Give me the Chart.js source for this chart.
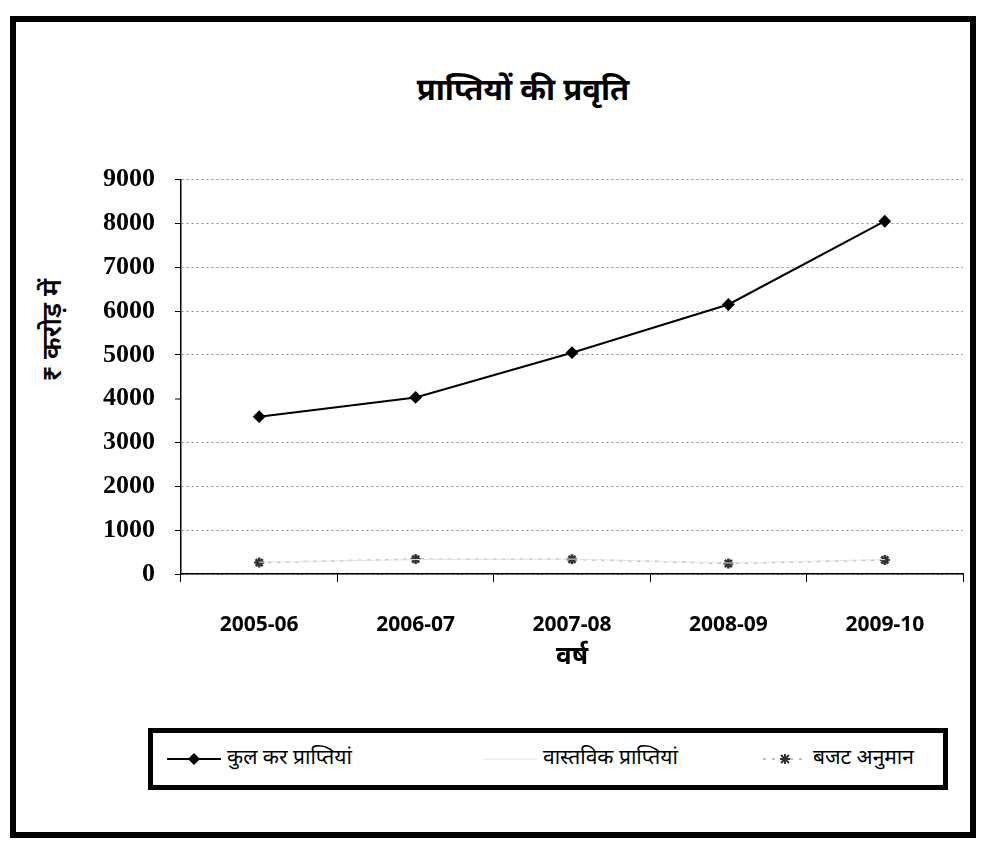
<!DOCTYPE html>
<html>
<head>
<meta charset="utf-8">
<script src="https://cdn.jsdelivr.net/npm/chart.js@4.4.1/dist/chart.umd.min.js"></script>
<style>
  html, body { margin: 0; padding: 0; background: #fff; }
  body {
    width: 987px; height: 845px; position: relative; overflow: hidden;
    font-family: "Noto Sans Devanagari", "Lohit Devanagari", "FreeSans", "Noto Sans", sans-serif;
    color: #000;
  }
  #frame {
    position: absolute; left: 10px; top: 16px; width: 966px; height: 822px;
    border: 6px solid #000; box-sizing: border-box;
  }
  #title {
    position: absolute; left: 0; width: 1046px; top: 72px; line-height: 42px;
    text-align: center; font-size: 31px; font-weight: bold;
  }
  #ytitle {
    position: absolute; left: 54px; top: 330px; white-space: nowrap;
    font-size: 27px; font-weight: 600;
    transform: translate(-50%, -50%) rotate(-90deg);
  }
  #chartBox { position: absolute; left: 20px; top: 144px; }
  #legend {
    position: absolute; left: 148px; top: 728px; width: 800px; height: 62px;
    border: 5px solid #000; box-sizing: border-box;
  }
  .item {
    position: absolute; top: 0; height: 52px; display: flex; align-items: center;
    font-size: 21px; white-space: nowrap;
  }
  .item svg { margin-right: 6px; }
</style>
</head>
<body>
<div id="frame"></div>
<div id="title">प्राप्तियों की प्रवृति</div>
<div id="ytitle">₹ करोड़ में</div>
<div id="chartBox"><canvas id="chart" width="955" height="531"></canvas></div>
<div id="legend"></div>

<script>
// data
const years = ['2005-06', '2006-07', '2007-08', '2008-09', '2009-10'];
const seriesNames = ['कुल कर प्राप्तियां', 'वास्तविक प्राप्तियां', 'बजट अनुमान'];
const totalTax = [3590, 4030, 5050, 6150, 8050];
const actualReceipts = [270, 330, 340, 250, 330];
const budgetEstimate = [260, 340, 335, 240, 320];
const yTicks = [0, 1000, 2000, 3000, 4000, 5000, 6000, 7000, 8000, 9000];

// the 4000 gridline is missing in the original
const gridWidths = yTicks.map(v => v === 4000 ? 0 : 1);

const ctx = document.getElementById('chart').getContext('2d');
const chart = new Chart(ctx, {
  type: 'line',
  data: {
    labels: years,
    datasets: [
      {
        label: seriesNames[0],
        data: totalTax,
        borderColor: '#000',
        borderWidth: 2,
        pointStyle: 'rectRot',
        pointRadius: 5,
        pointBackgroundColor: '#000',
        pointBorderColor: '#000',
        tension: 0
      },
      {
        label: seriesNames[1],
        data: actualReceipts,
        borderColor: '#e4e4e4',
        borderWidth: 1,
        pointRadius: 0,
        tension: 0
      },
      {
        label: seriesNames[2],
        data: budgetEstimate,
        borderColor: '#aaa',
        borderWidth: 1.5,
        borderDash: [3, 6],
        pointStyle: 'star',
        pointRadius: 5,
        pointBorderWidth: 2.5,
        pointBorderColor: '#333',
        pointBackgroundColor: '#333',
        tension: 0
      }
    ]
  },
  options: {
    responsive: false,
    animation: false,
    layout: { padding: { left: 0, right: 12, top: 25, bottom: 0 } },
    plugins: {
      legend: { display: false },
      title: { display: false },
      tooltip: { enabled: false }
    },
    scales: {
      x: {
        offset: true,
        afterFit: (scale) => { scale.height = 101; },
        grid: {
          offset: true,
          drawOnChartArea: false,
          tickLength: 8,
          tickColor: '#000',
          tickWidth: 1
        },
        border: { color: '#000', width: 1.5 },
        ticks: {
          color: '#000',
          padding: 30,
          maxRotation: 0,
          font: { family: '"Open Sans", sans-serif', size: 21, weight: 'bold' }
        },
        title: {
          display: true,
          text: 'वर्ष',
          color: '#000',
          padding: { top: 0, bottom: 0 },
          font: { family: '"Noto Sans Devanagari", "Lohit Devanagari", "FreeSans", sans-serif', size: 26, weight: 'bold' }
        }
      },
      y: {
        min: yTicks[0],
        max: yTicks[yTicks.length - 1],
        afterFit: (scale) => { scale.width = 161; },
        afterBuildTicks: (scale) => { scale.ticks = yTicks.map(v => ({ value: v })); },
        grid: {
          color: '#8a8a8a',
          lineWidth: gridWidths,
          tickLength: 6,
          tickColor: '#000',
          tickWidth: 1
        },
        border: { color: '#000', width: 1.5, dash: [2, 3] },
        ticks: {
          color: '#000',
          padding: 20,
          callback: (v) => String(v),
          font: { family: '"Liberation Serif", "DejaVu Serif", serif', size: 26, weight: 'bold' }
        }
      }
    }
  }
});

// legend built from the datasets
const legendPos = [14, 330, 610];
const legendBox = document.getElementById('legend');
chart.data.datasets.forEach((ds, i) => {
  const w = i === 2 ? 44 : 54;
  let svg = `<svg width="${w}" height="20"><line x1="0" y1="10" x2="${w}" y2="10" stroke="${ds.borderColor}" stroke-width="${ds.borderWidth}"${ds.borderDash ? ` stroke-dasharray="${ds.borderDash.join(',')}"` : ''}/>`;
  const c = w / 2;
  if (ds.pointStyle === 'rectRot') {
    svg += `<polygon points="${c},4 ${c + 6},10 ${c},16 ${c - 6},10" fill="${ds.pointBackgroundColor}"/>`;
  } else if (ds.pointStyle === 'star') {
    svg += `<g stroke="${ds.pointBorderColor}" stroke-width="2"><line x1="${c - 5}" y1="10" x2="${c + 5}" y2="10"/><line x1="${c}" y1="5" x2="${c}" y2="15"/><line x1="${c - 4}" y1="6" x2="${c + 4}" y2="14"/><line x1="${c - 4}" y1="14" x2="${c + 4}" y2="6"/></g>`;
  }
  svg += '</svg>';
  const item = document.createElement('div');
  item.className = 'item';
  item.style.left = legendPos[i] + 'px';
  item.innerHTML = svg + '<span>' + ds.label + '</span>';
  legendBox.appendChild(item);
});
</script>
</body>
</html>
